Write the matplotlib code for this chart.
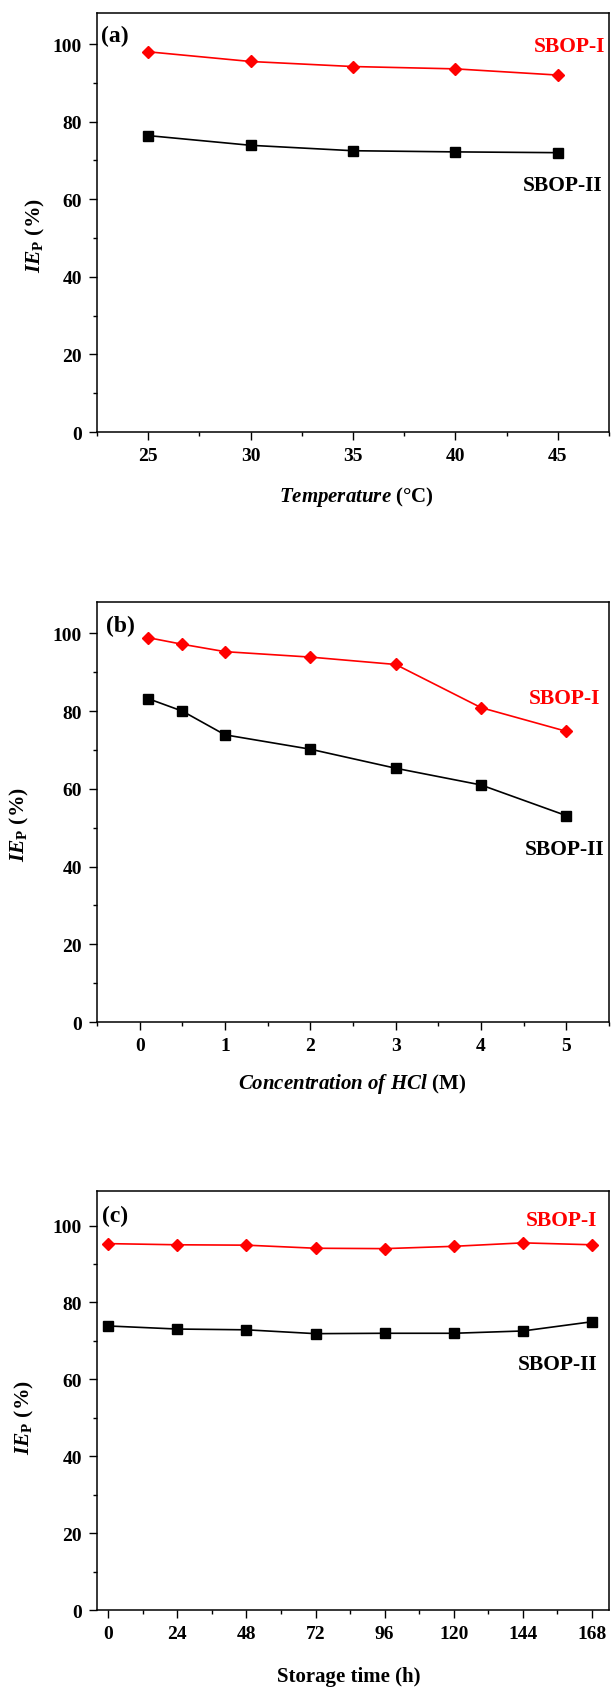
import numpy as np
import matplotlib
matplotlib.use("Agg")
import matplotlib.pyplot as plt
from matplotlib.ticker import MultipleLocator

plt.rcParams['font.family'] = ['Liberation Serif', 'DejaVu Serif']
plt.rcParams['font.weight'] = 'bold'
plt.rcParams['mathtext.fontset'] = 'custom'
plt.rcParams['mathtext.rm'] = 'Liberation Serif:bold'
plt.rcParams['mathtext.bf'] = 'Liberation Serif:bold'
plt.rcParams['mathtext.it'] = 'Liberation Serif:italic:bold'

# ---- data ----
temp = [25, 30, 35, 40, 45]
temp_sbop1 = [98.0, 95.5, 94.2, 93.6, 92.0]
temp_sbop2 = [76.4, 73.9, 72.5, 72.2, 72.0]

hcl = [0.1, 0.5, 1, 2, 3, 4, 5]
hcl_sbop1 = [98.9, 97.2, 95.3, 93.9, 92.0, 80.9, 74.8]
hcl_sbop2 = [83.2, 80.0, 73.9, 70.2, 65.3, 61.0, 53.1]

storage = [0, 24, 48, 72, 96, 120, 144, 168]
storage_sbop1 = [95.3, 95.0, 94.9, 94.1, 94.0, 94.6, 95.5, 95.0]
storage_sbop2 = [73.9, 73.1, 72.9, 71.9, 72.0, 72.0, 72.6, 75.0]

panels = [
    dict(x=temp, s1=temp_sbop1, s2=temp_sbop2, tag='(a)',
         xlabel=r'$Temperature$ (°C)', xlim=(22.5, 47.5), ylim=(0, 108),
         xmin=2.5, xticks=temp,
         rect=[97/611, 1-433/1690, 512/611, 419/1690],
         s1pos=(0.923, 0.922), s2pos=(0.909, 0.589), tagpos=(0.007, 0.947),
         ylabpos=(-0.098, 0.471), xlabpos=(0.507, -0.124)),
    dict(x=hcl, s1=hcl_sbop1, s2=hcl_sbop2, tag='(b)',
         xlabel=r'$Concentration\ of\ HCl$ (M)', xlim=(-0.5, 5.5), ylim=(0, 108),
         xmin=0.5, xticks=[0, 1, 2, 3, 4, 5],
         rect=[97/611, 1-1023/1690, 512/611, 419.7/1690],
         s1pos=(0.914, 0.773), s2pos=(0.914, 0.412), tagpos=(0.018, 0.944),
         ylabpos=(-0.129, 0.474), xlabpos=(0.498, -0.117)),
    dict(x=storage, s1=storage_sbop1, s2=storage_sbop2, tag='(c)',
         xlabel='Storage time (h)', xlim=(-3.9, 173.9), ylim=(0, 108.9),
         xmin=12, xticks=storage,
         rect=[97/611, 1-1611.3/1690, 512/611, 419/1690],
         s1pos=(0.907, 0.931), s2pos=(0.900, 0.588), tagpos=(0.009, 0.942),
         ylabpos=(-0.119, 0.462), xlabpos=(0.491, -0.134)),
]

fig = plt.figure(figsize=(6.11, 16.9), dpi=100)

for p in panels:
    ax = fig.add_axes(p['rect'])
    ax.plot(p['x'], p['s1'], color='#ff0000', lw=1.2, marker='D', ms=6.3, zorder=3)
    ax.plot(p['x'], p['s2'], color='black', lw=1.2, marker='s', ms=6.8, zorder=3)
    ax.set_xlim(*p['xlim'])
    ax.set_ylim(*p['ylim'])
    ax.set_xticks(p['xticks'])
    ax.xaxis.set_minor_locator(MultipleLocator(p['xmin']))
    ax.set_yticks([0, 20, 40, 60, 80, 100])
    ax.yaxis.set_minor_locator(MultipleLocator(10))
    ax.tick_params(which='major', direction='out', length=5.8, width=1.0,
                   labelsize=14, pad=5)
    ax.tick_params(which='minor', direction='out', length=3.0, width=1.0)
    for sp in ax.spines.values():
        sp.set_linewidth(1.1)
    for lab in ax.get_xticklabels() + ax.get_yticklabels():
        lab.set_fontweight('bold')
    ax.set_ylabel(r'$IE_{\mathrm{P}}$ (%)', fontsize=15.5, fontweight='bold')
    ax.yaxis.set_label_coords(*p['ylabpos'])
    ax.set_xlabel(p['xlabel'], fontsize=15, fontweight='bold')
    ax.xaxis.set_label_coords(*p['xlabpos'])
    ax.text(*p['s1pos'], 'SBOP-I', color='#ff0000', fontsize=15.5, fontweight='bold',
            ha='center', va='center', transform=ax.transAxes)
    ax.text(*p['s2pos'], 'SBOP-II', color='black', fontsize=15.5, fontweight='bold',
            ha='center', va='center', transform=ax.transAxes)
    ax.text(*p['tagpos'], p['tag'], color='black', fontsize=17, fontweight='bold',
            ha='left', va='center', transform=ax.transAxes)

fig.savefig('out.png', dpi=100)
